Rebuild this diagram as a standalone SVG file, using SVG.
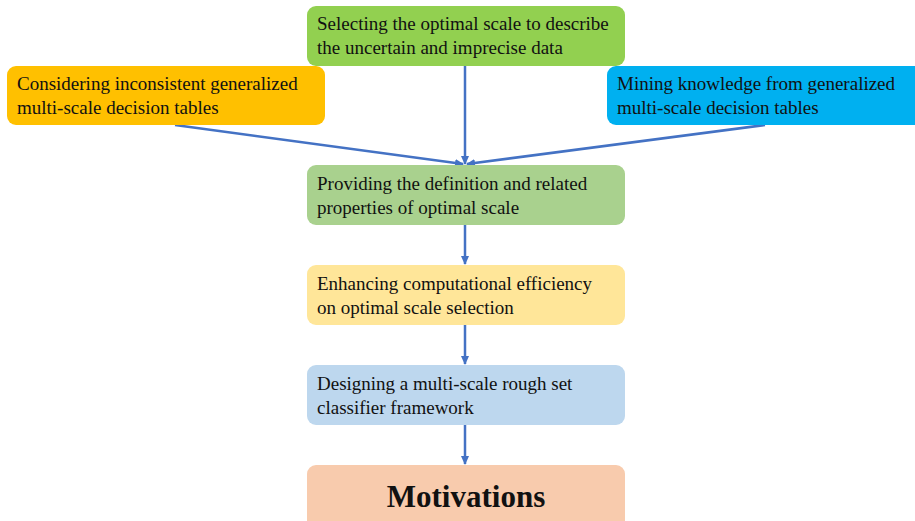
<svg xmlns="http://www.w3.org/2000/svg" width="915" height="521" viewBox="0 0 915 521">
<defs>
<style>
.t{font-family:"Liberation Serif","Times New Roman",serif;font-size:19px;fill:#111}
.c{stroke:#4472C4;stroke-width:2.5;fill:none}
</style>
<marker id="ah" markerWidth="10" markerHeight="10" refX="8" refY="5" orient="auto" markerUnits="userSpaceOnUse">
<path d="M0,1 L9,5 L0,9 Z" fill="#4472C4"/>
</marker>
</defs>
<rect width="915" height="521" fill="#fff"/>
<g id="connectors">
<line class="c" x1="465" y1="66" x2="465" y2="164" marker-end="url(#ah)"/>
<line class="c" x1="175" y1="125" x2="463" y2="164" marker-end="url(#ah)"/>
<line class="c" x1="765" y1="125" x2="467" y2="164" marker-end="url(#ah)"/>
<line class="c" x1="465" y1="225" x2="465" y2="264" marker-end="url(#ah)"/>
<line class="c" x1="465" y1="325" x2="465" y2="364" marker-end="url(#ah)"/>
<line class="c" x1="465" y1="425" x2="465" y2="464" marker-end="url(#ah)"/>
</g>
<g id="n-select">
<rect x="307" y="6" width="318" height="60" rx="9" fill="#92D050"/>
<text class="t" x="317" y="30">Selecting the optimal scale to describe</text>
<text class="t" x="317" y="54">the uncertain and imprecise data</text>
</g>
<g id="n-consider">
<rect x="7" y="66" width="318" height="59" rx="9" fill="#FFC000"/>
<text class="t" x="17" y="90">Considering inconsistent generalized</text>
<text class="t" x="17" y="114">multi-scale decision tables</text>
</g>
<g id="n-mining">
<rect x="607" y="66" width="318" height="59" rx="9" fill="#00B0F0"/>
<text class="t" x="617" y="90">Mining knowledge from generalized</text>
<text class="t" x="617" y="114">multi-scale decision tables</text>
</g>
<g id="n-providing">
<rect x="307" y="165" width="318" height="60" rx="9" fill="#A9D18E"/>
<text class="t" x="317" y="190">Providing the definition and related</text>
<text class="t" x="317" y="214">properties of optimal scale</text>
</g>
<g id="n-enhancing">
<rect x="307" y="265" width="318" height="60" rx="9" fill="#FFE699"/>
<text class="t" x="317" y="290">Enhancing computational efficiency</text>
<text class="t" x="317" y="314">on optimal scale selection</text>
</g>
<g id="n-designing">
<rect x="307" y="365" width="318" height="60" rx="9" fill="#BDD7EE"/>
<text class="t" x="317" y="390">Designing a multi-scale rough set</text>
<text class="t" x="317" y="414">classifier framework</text>
</g>
<g id="n-motivations">
<rect x="307" y="465" width="318" height="70" rx="9" fill="#F8CBAD"/>
<text x="466" y="507" text-anchor="middle" style="font-family:'Liberation Serif','Times New Roman',serif;font-size:31px;font-weight:bold;fill:#111">Motivations</text>
</g>
</svg>
